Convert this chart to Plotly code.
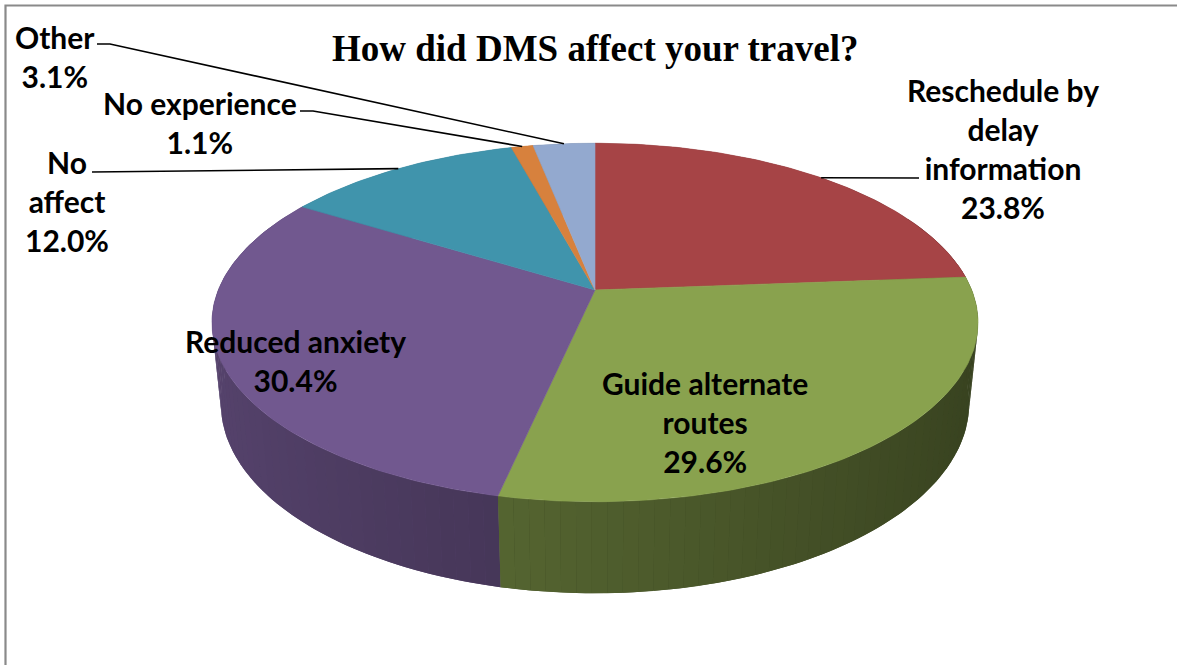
import numpy as np
import plotly.graph_objects as go

# Survey answers (share of respondents, %)
categories = [
    "Reschedule by delay information",
    "Guide alternate routes",
    "Reduced anxiety",
    "No affect",
    "No experience",
    "Other",
]
shares = [23.8, 29.6, 30.4, 12.0, 1.1, 3.1]
label_lines = [
    ["Reschedule by", "delay", "information"],
    ["Guide alternate", "routes"],
    ["Reduced anxiety"],
    ["No", "affect"],
    ["No experience"],
    ["Other"],
]
top_colors = ["#A64446", "#89A24E", "#71588F", "#4094AC", "#D7813D", "#93A9CF"]

TITLE = "How did DMS affect your travel?"

# ---- 3-D pie geometry (perspective view of a disc of radius 1) ----
W, H = 1177, 665
CX, CY = 595.0, 290.0        # screen position of the disc centre
SCALE = 376.7                # pixels per unit radius
ELEV = np.radians(27.4)      # viewing elevation
DIST = 4.90                  # camera distance (perspective)
DEPTH = 0.245                # thickness of the disc


def project(px, pz, py=0.0):
    """Project world point (x right, z toward viewer, y up) to screen pixels."""
    c, s = np.cos(ELEV), np.sin(ELEV)
    w = py * s + pz * c
    v = py * c - pz * s
    f = DIST / (DIST - w)
    return CX + SCALE * px * f, CY - SCALE * v * f


def rim(alpha, py=0.0):
    # alpha measured clockwise from the far side of the disc
    return project(np.sin(alpha), -np.cos(alpha), py)


def shade(hex_color, factor):
    r, g, b = (int(hex_color[i:i + 2], 16) for i in (1, 3, 5))
    return "rgb({},{},{})".format(*(int(max(0, min(255, round(ch * factor)))) for ch in (r, g, b)))


def side_factor(alpha):
    # light comes from the left: walls facing left are brighter
    return 0.58 - 0.18 * np.sin(alpha)


def wall(a0, a1, n=4):
    aa = np.linspace(a0, a1, n)
    tx, ty = rim(aa)
    bx, by = rim(aa[::-1], -DEPTH)
    return np.concatenate([tx, bx, tx[:1]]), np.concatenate([ty, by, ty[:1]])


vals = np.array(shares, dtype=float)
bounds = np.concatenate([[0.0], np.cumsum(vals) / vals.sum()]) * 2 * np.pi

fig = go.Figure()

# side walls: a solid base per slice, then thin strips carrying the shading
walls = []
for i, col in enumerate(top_colors):
    a0, a1 = bounds[i], bounds[i + 1]
    mid = 0.5 * (a0 + a1)
    xs, ys = wall(a0, a1, max(4, int(vals[i] * 3)))
    walls.append((-np.cos(mid) - 5, xs, ys, shade(col, side_factor(mid))))
    n = max(1, int(np.ceil((a1 - a0) / np.radians(2.0))))
    edges = np.linspace(a0, a1, n + 1)
    for j in range(n):
        e0, e1 = edges[j], edges[j + 1]
        m = 0.5 * (e0 + e1)
        if -np.cos(m) < -0.45:
            continue
        xs, ys = wall(e0, e1)
        walls.append((-np.cos(m), xs, ys, shade(col, side_factor(m))))

for _, xs, ys, c in sorted(walls, key=lambda t: t[0]):
    fig.add_trace(go.Scatter(
        x=xs, y=ys, mode="lines", fill="toself", fillcolor=c,
        line=dict(width=0), hoverinfo="skip", showlegend=False,
    ))

# top faces
for i, col in enumerate(top_colors):
    aa = np.linspace(bounds[i], bounds[i + 1], max(3, int(vals[i] * 4)))
    rx, ry = rim(aa)
    cx0, cy0 = project(0.0, 0.0)
    xs = np.concatenate([[cx0], rx, [cx0]])
    ys = np.concatenate([[cy0], ry, [cy0]])
    fig.add_trace(go.Scatter(
        x=xs, y=ys, mode="lines", fill="toself", fillcolor=col,
        line=dict(color=col, width=0.6), hoverinfo="skip",
        name=categories[i], showlegend=False,
    ))

# data labels: (centre x, centre y) of each label block, plus leader anchor
label_pos = [(1003, 148), (705, 422), (295, 360), (67, 201), (200, 122), (55, 56)]
leader_start = {
    0: [(919, 178)],
    3: [(92, 172)],
    4: [(300, 111), (313, 111)],
    5: [(97, 44), (110, 44)],
}

for i in range(len(categories)):
    text = "<br>".join(label_lines[i] + [f"{shares[i]:.1f}%"])
    fig.add_annotation(
        x=label_pos[i][0], y=label_pos[i][1], xref="x", yref="y",
        text=f"<b>{text}</b>", showarrow=False, align="center",
        xanchor="center", yanchor="middle",
        font=dict(family="Lato", size=30, color="#000000"),
    )
    if i in leader_start:
        mid = 0.5 * (bounds[i] + bounds[i + 1])
        ex, ey = rim(mid)
        pts = leader_start[i] + [(float(ex), float(ey))]
        fig.add_trace(go.Scatter(
            x=[p[0] for p in pts], y=[p[1] for p in pts], mode="lines",
            line=dict(color="#000000", width=1.6), hoverinfo="skip", showlegend=False,
        ))

fig.add_annotation(
    x=595, y=48, xref="x", yref="y", text=f"<b>{TITLE}</b>", showarrow=False,
    xanchor="center", yanchor="middle",
    font=dict(family="Liberation Serif", size=37, color="#000000"),
)

# chart frame
fig.add_shape(type="rect", xref="x", yref="y", x0=5.5, y0=5.5, x1=W + 10, y1=H + 10,
              line=dict(color="#8A8A8A", width=2.2), fillcolor="rgba(0,0,0,0)", layer="above")

fig.update_layout(
    width=W, height=H, margin=dict(l=0, r=0, t=0, b=0),
    paper_bgcolor="#FFFFFF", plot_bgcolor="#FFFFFF",
    xaxis=dict(range=[0, W], visible=False, fixedrange=True),
    yaxis=dict(range=[H, 0], visible=False, fixedrange=True),
    showlegend=False,
)

fig.write_html("out.html")
